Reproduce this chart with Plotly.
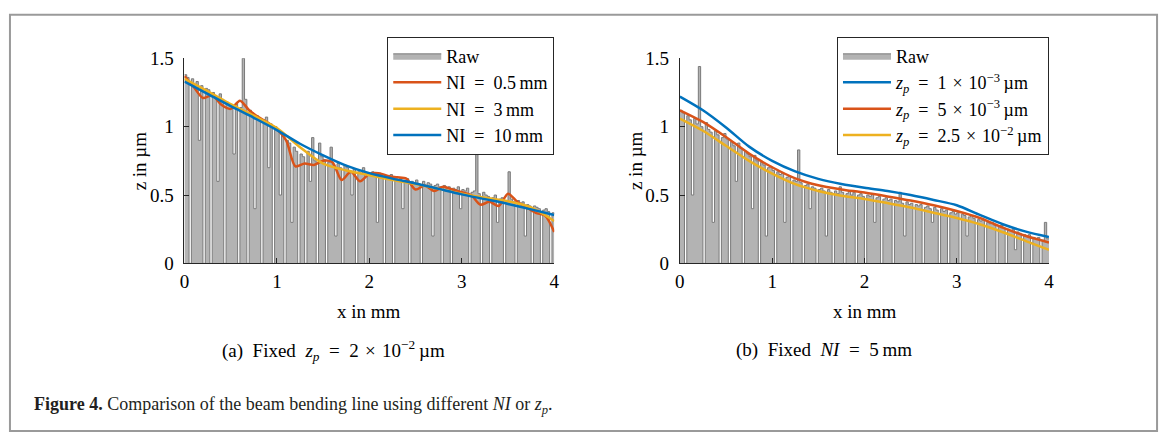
import numpy as np
import plotly.graph_objects as go

# ---------------- data ----------------
x_raw = np.linspace(0, 4, 161)

raw_a = [
    1.38, 1.36, 0.0, 1.35, 1.30, 1.33, 0.9, 1.30, 0.0, 1.28,
    1.27, 0.0, 1.25, 1.22, 0.6, 1.24, 1.20, 0.0, 1.18, 1.16,
    1.15, 0.8, 1.17, 0.0, 1.14, 1.50, 1.20, 0.0, 1.12, 1.10,
    0.4, 1.08, 1.06, 0.0, 1.05, 1.07, 0.7, 1.02, 0.0, 1.00,
    0.98, 0.5, 0.95, 0.0, 0.90, 0.88, 0.3, 0.85, 0.82, 0.0,
    0.80, 0.78, 0.0, 0.82, 0.60, 0.92, 0.75, 0.0, 0.88, 0.78,
    0.76, 0.0, 0.74, 0.85, 0.72, 0.2, 0.73, 0.70, 0.0, 0.72,
    0.70, 0.68, 0.5, 0.69, 0.0, 0.67, 0.66, 0.70, 0.0, 0.66,
    0.65, 0.67, 0.64, 0.3, 0.66, 0.63, 0.0, 0.64, 0.62, 0.65,
    0.0, 0.63, 0.61, 0.62, 0.4, 0.60, 0.62, 0.0, 0.60, 0.59,
    0.61, 0.58, 0.0, 0.60, 0.57, 0.59, 0.58, 0.2, 0.57, 0.58,
    0.56, 0.0, 0.57, 0.55, 0.56, 0.0, 0.55, 0.54, 0.56, 0.4,
    0.54, 0.53, 0.55, 0.0, 0.52, 0.53, 0.83, 0.51, 0.0, 0.52,
    0.50, 0.49, 0.0, 0.48, 0.50, 0.3, 0.47, 0.48, 0.0, 0.46,
    0.67, 0.47, 0.45, 0.0, 0.46, 0.44, 0.45, 0.2, 0.43, 0.42,
    0.0, 0.42, 0.41, 0.40, 0.0, 0.39, 0.40, 0.38, 0.0, 0.37,
    0.36,
]

raw_b = [
    1.12, 1.10, 0.0, 1.08, 1.05, 0.5, 1.06, 1.02, 1.44, 1.00,
    0.0, 1.03, 0.98, 0.96, 0.3, 0.97, 0.94, 0.0, 0.92, 0.95,
    0.91, 0.0, 0.89, 0.86, 0.6, 0.88, 0.84, 0.0, 0.82, 0.80,
    0.78, 0.4, 0.79, 0.75, 0.0, 0.74, 0.72, 0.2, 0.70, 0.71,
    0.68, 0.0, 0.67, 0.65, 0.66, 0.3, 0.63, 0.64, 0.0, 0.61,
    0.60, 0.83, 0.59, 0.0, 0.57, 0.58, 0.4, 0.56, 0.55, 0.0,
    0.54, 0.55, 0.53, 0.2, 0.54, 0.52, 0.0, 0.53, 0.51, 0.56,
    0.52, 0.0, 0.51, 0.53, 0.5, 0.52, 0.0, 0.50, 0.51, 0.49,
    0.0, 0.50, 0.49, 0.51, 0.3, 0.48, 0.49, 0.0, 0.47, 0.48,
    0.46, 0.47, 0.0, 0.46, 0.45, 0.52, 0.44, 0.2, 0.45, 0.43,
    0.44, 0.0, 0.43, 0.42, 0.43, 0.0, 0.41, 0.42, 0.40, 0.3,
    0.41, 0.39, 0.0, 0.40, 0.38, 0.39, 0.0, 0.37, 0.38, 0.36,
    0.37, 0.0, 0.36, 0.35, 0.2, 0.34, 0.35, 0.33, 0.0, 0.32,
    0.31, 0.32, 0.0, 0.30, 0.29, 0.3, 0.28, 0.0, 0.27, 0.28,
    0.26, 0.0, 0.25, 0.24, 0.25, 0.1, 0.23, 0.22, 0.0, 0.21,
    0.20, 0.21, 0.0, 0.19, 0.18, 0.19, 0.0, 0.17, 0.30, 0.18,
    0.18,
]

x_fine = [round(0.1 * i, 1) for i in range(41)]
ni_05 = [1.37, 1.29, 1.21, 1.23, 1.16, 1.13, 1.19, 1.12, 1.07, 1.03,
         0.98, 0.90, 0.71, 0.73, 0.72, 0.75, 0.74, 0.61, 0.67, 0.60,
         0.655, 0.66, 0.64, 0.63, 0.62, 0.54, 0.57, 0.53, 0.56, 0.54,
         0.52, 0.50, 0.43, 0.45, 0.42, 0.51, 0.45, 0.41, 0.37, 0.35,
         0.23]

x_fit = [0.25 * i for i in range(17)]
ni_3 = [1.35, 1.26, 1.165, 1.08, 0.99, 0.85, 0.73, 0.68, 0.645, 0.61,
        0.58, 0.545, 0.51, 0.48, 0.455, 0.41, 0.31]
ni_10 = [1.33, 1.24, 1.15, 1.065, 0.975, 0.875, 0.79, 0.715, 0.66, 0.62,
         0.585, 0.545, 0.505, 0.47, 0.435, 0.395, 0.354]

zp_1e3 = [1.22, 1.12, 0.994, 0.854, 0.75, 0.673, 0.618, 0.58, 0.553, 0.53,
          0.50, 0.464, 0.425, 0.355, 0.286, 0.232, 0.193]
zp_5e3 = [1.12, 1.035, 0.924, 0.803, 0.703, 0.622, 0.571, 0.541, 0.518, 0.49,
          0.46, 0.425, 0.383, 0.332, 0.262, 0.20, 0.153]
zp_25e2 = [1.059, 0.97, 0.86, 0.75, 0.657, 0.58, 0.53, 0.495, 0.471, 0.441,
           0.409, 0.371, 0.332, 0.286, 0.228, 0.163, 0.10]

x_ticks = [0, 1, 2, 3, 4]
y_ticks = [0, 0.5, 1, 1.5]
y_tick_text = ["0", "0.5", "1", "1.5"]

# ---------------- styling ----------------
W, H = 1168, 443
FONT = "Liberation Serif"
BLUE, ORANGE, YELLOW = "#0072BD", "#D95319", "#EDB120"
RAW_FILL, RAW_EDGE = "#b3b3b3", "#7a7a7a"
LW = 2.5

def px_x(p):
    return p / W

def px_y(p):
    return (H - p) / H

fig = go.Figure()

def add_raw(xa, ya, y, leg):
    fig.add_trace(go.Scatter(
        x=x_raw, y=y, mode="lines", line=dict(color=RAW_EDGE, width=1, shape="hv"),
        fill="tozeroy", fillcolor=RAW_FILL, name="Raw", xaxis=xa, yaxis=ya, legend=leg))

def add_line(xa, ya, xs, ys, color, name, leg):
    fig.add_trace(go.Scatter(
        x=xs, y=ys, mode="lines", line=dict(color=color, width=LW, shape="spline", smoothing=0.8),
        name=name, xaxis=xa, yaxis=ya, legend=leg))

S = "\u2002"   # en space (spacing around =)
M = "\u2004"   # three-per-em space (spacing around ×)
T = "\u2009"   # thin space

# left panel
add_raw("x", "y", raw_a, "legend")
add_line("x", "y", x_fine, ni_05, ORANGE, "NI" + S + "=" + S + "0.5" + T + "mm", "legend")
add_line("x", "y", x_fit, ni_3, YELLOW, "NI" + S + "=" + S + "3" + T + "mm", "legend")
add_line("x", "y", x_fit, ni_10, BLUE, "NI" + S + "=" + S + "10" + T + "mm", "legend")

# right panel
add_raw("x2", "y2", raw_b, "legend2")
zp = "<i>z</i><sub><i>p</i></sub>"
add_line("x2", "y2", x_fit, zp_1e3, BLUE, zp + S + "=" + S + "1" + M + "×" + M + "10<sup>−3</sup>" + T + "µm", "legend2")
add_line("x2", "y2", x_fit, zp_5e3, ORANGE, zp + S + "=" + S + "5" + M + "×" + M + "10<sup>−3</sup>" + T + "µm", "legend2")
add_line("x2", "y2", x_fit, zp_25e2, YELLOW, zp + S + "=" + S + "2.5" + M + "×" + M + "10<sup>−2</sup>" + T + "µm", "legend2")

axis_common = dict(
    showgrid=False, zeroline=False, showline=True, linecolor="#262626", linewidth=1,
    ticks="inside", ticklen=5, tickcolor="#262626", tickwidth=1,
    tickfont=dict(family=FONT, size=19, color="black"),
)

leg_common = dict(xanchor="right", yanchor="top", bordercolor="#262626", borderwidth=1,
                  bgcolor="white", font=dict(family=FONT, size=18), tracegroupgap=0,
                  itemwidth=48)

yd = [px_y(266), px_y(50.7)]
fig.update_layout(
    width=W, height=H, margin=dict(l=0, r=0, t=0, b=0),
    paper_bgcolor="white", plot_bgcolor="white",
    font=dict(family=FONT, size=19, color="black"),
    xaxis=dict(domain=[px_x(181), px_x(554)], range=[0, 4], tickvals=x_ticks, anchor="y",
               ticklabelstandoff=1, **axis_common),
    yaxis=dict(domain=yd, range=[0, 1.5], tickvals=y_ticks, ticktext=y_tick_text, anchor="x",
               ticklabelstandoff=6, **axis_common),
    xaxis2=dict(domain=[px_x(680.7), px_x(1053)], range=[0, 4], tickvals=x_ticks, anchor="y2",
                ticklabelstandoff=1, **axis_common),
    yaxis2=dict(domain=yd, range=[0, 1.5], tickvals=y_ticks, ticktext=y_tick_text, anchor="x2",
                ticklabelstandoff=6, **axis_common),
    legend=dict(x=px_x(554), y=px_y(28), **leg_common),
    legend2=dict(x=px_x(1053), y=px_y(28), **leg_common),
    showlegend=True,
)

ann = [
    dict(text="x in mm", x=px_x(367.5), y=px_y(316)),
    dict(text="x in mm", x=px_x(867), y=px_y(316)),
    dict(text="z in µm", x=px_x(136), y=px_y(158), textangle=-90),
    dict(text="z in µm", x=px_x(636), y=px_y(158), textangle=-90),
    dict(text="(a)" + S + "Fixed" + S + zp + S + "=" + S + "2" + M + "×" + M + "10<sup>−2</sup>" + T + "µm",
         x=px_x(331), y=px_y(357)),
    dict(text="(b)" + S + "Fixed" + S + "<i>NI</i>" + S + "=" + S + "5" + T + "mm",
         x=px_x(826), y=px_y(357)),
]
for a in ann:
    fig.add_annotation(xref="paper", yref="paper", showarrow=False,
                       xanchor="center", yanchor="middle",
                       font=dict(family=FONT, size=19, color="black"), **a)

fig.add_annotation(xref="paper", yref="paper", showarrow=False, xanchor="left", yanchor="middle",
                   x=px_x(27), y=px_y(415),
                   text="<b>Figure 4.</b> Comparison of the beam bending line using different <i>NI</i> or <i>z</i><sub><i>p</i></sub>.",
                   font=dict(family=FONT, size=18, color="#231f20"))

# outer frame
fig.add_shape(type="rect", xref="paper", yref="paper",
              x0=px_x(5), x1=px_x(1162), y0=px_y(442), y1=px_y(5),
              line=dict(color="#9a9a9a", width=2), layer="below")

fig.write_html("out.html", config={"displayModeBar": False},
               post_script="document.body.style.margin='0';")
